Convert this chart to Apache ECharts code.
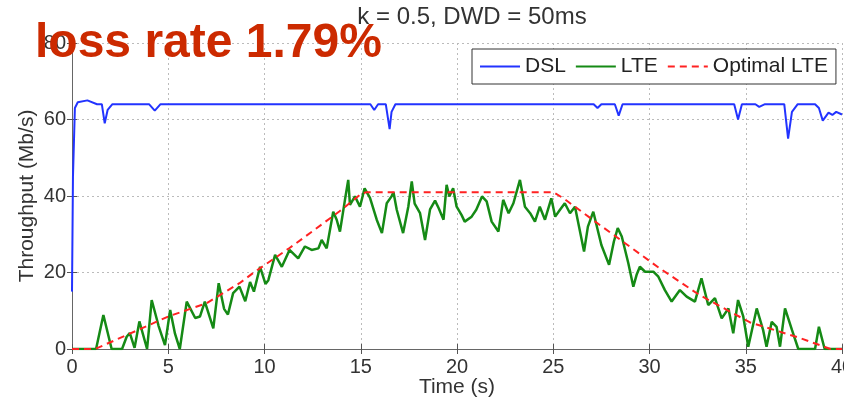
<!DOCTYPE html>
<html>
<head>
<meta charset="utf-8">
<script src="https://cdn.jsdelivr.net/npm/echarts@6/dist/echarts.min.js"></script>
<style>html,body{margin:0;padding:0;background:#fff}#c{width:844px;height:401px}</style>
</head>
<body>
<div id="c"></div>
<script>
const FONT = "'Liberation Sans', Arial, Helvetica, sans-serif";
const chartTitle = 'k = 0.5, DWD = 50ms';
const annotation = 'loss rate 1.79%';
const xName = 'Time (s)';
const yName = 'Throughput (Mb/s)';
const seriesNames = ['DSL', 'LTE', 'Optimal LTE'];

const dslT = [0, 0.05, 0.15, 0.3, 0.8, 1.3, 1.55, 1.7, 1.85, 2.1, 2.5, 4.0, 4.3, 4.6, 6, 10, 15.5, 15.7, 15.9, 16.3, 16.5, 16.6, 16.8, 20, 27.1, 27.3, 27.5, 28.2, 28.4, 28.6, 34.4, 34.6, 34.8, 35.5, 35.7, 36, 37.0, 37.2, 37.4, 37.7, 38.6, 38.8, 39.0, 39.3, 39.5, 39.7, 40];
const dslY = [15, 45, 63, 64.5, 65, 64, 64, 59, 62.5, 64, 64, 64, 62.3, 64, 64, 64, 64, 62.5, 64, 64, 57.5, 62, 64, 64, 64, 63, 64, 64, 61, 64, 64, 60, 64, 64, 63.3, 64, 64, 55, 62, 64, 64, 63, 59.7, 61.8, 61.2, 62, 61.3];

const lteT = [0, 1.25, 1.63, 2.06, 2.6, 2.84, 3.0, 3.25, 3.5, 3.9, 4.14, 4.5, 4.83, 5.1, 5.35, 5.6, 5.96, 6.4, 6.65, 6.9, 7.34, 7.62, 7.9, 8.1, 8.37, 8.7, 9.0, 9.25, 9.45, 9.77, 10.05, 10.2, 10.55, 10.9, 11.3, 11.75, 12.1, 12.45, 12.8, 12.97, 13.23, 13.57, 13.75, 13.92, 14.18, 14.35, 14.44, 14.7, 14.96, 15.2, 15.48, 15.83, 16.1, 16.35, 16.6, 16.7, 16.87, 17.2, 17.47, 17.65, 17.8, 18.08, 18.34, 18.6, 18.86, 19.05, 19.3, 19.46, 19.6, 19.8, 19.98, 20.24, 20.4, 20.76, 21.0, 21.3, 21.54, 21.8, 22.15, 22.4, 22.68, 22.93, 23.27, 23.53, 23.8, 24.05, 24.3, 24.57, 24.9, 25.1, 25.35, 25.6, 25.87, 26.13, 26.6, 26.8, 27.08, 27.5, 27.9, 28.15, 28.35, 28.56, 28.9, 29.16, 29.33, 29.5, 29.77, 30.2, 30.46, 30.8, 31.15, 31.58, 31.93, 32.36, 32.7, 33.05, 33.4, 33.75, 34.1, 34.35, 34.6, 34.87, 35.13, 35.57, 35.9, 36.08, 36.35, 36.6, 36.78, 37.04, 37.4, 37.73, 38.6, 38.8, 39.1, 40];
const lteY = [0, 0, 8.9, 0, 0, 3.2, 4.2, 0.3, 7.2, 0, 12.8, 6, 1, 10.2, 4, 0, 12.4, 8.1, 8.5, 12.4, 5.4, 17.2, 10.5, 9, 14.6, 16.3, 12.5, 17.5, 15, 21.5, 17, 18, 24.6, 21.5, 25.9, 23.7, 26.8, 25.9, 26.3, 28.5, 26.3, 35.9, 33.8, 30.7, 39, 44.2, 37.7, 39.9, 37.2, 42, 39.5, 33.8, 30.3, 38.1, 39.9, 41, 36.4, 30.3, 37.2, 43.8, 38, 35.5, 28.5, 36.5, 38.8, 36.8, 33.8, 42.9, 39.9, 42, 37.2, 35, 33.3, 34.6, 36.4, 39.9, 38.6, 33.3, 30.7, 39, 35.5, 38.1, 44.2, 37.2, 35.5, 33.3, 37.2, 33.8, 39.4, 34.6, 36.4, 38.1, 35.5, 37.2, 25.5, 32, 35.9, 27.2, 22, 28.1, 31.6, 29.4, 22.4, 16.3, 19.4, 21.5, 20.2, 20.2, 18.9, 15.4, 12.4, 15.4, 13.7, 12.4, 18.5, 11.5, 13.3, 8, 10.6, 4.1, 12.8, 8.5, 0.6, 10.6, 5, 0.6, 7.1, 5.8, 0.6, 10.6, 5, 0, 0, 5.8, 0, 0];

const optT = [0, 1.2, 3, 5, 7, 8.7, 9.5, 11.3, 12.5, 13.9, 15, 15.3, 25.0, 25.5, 27.4, 28.5, 30.5, 32.6, 35.2, 37.8, 39.4, 40];
const optY = [0, 0, 4, 8.5, 12, 17.2, 20.2, 26.4, 30.8, 36, 40.5, 41, 41, 39.5, 32.5, 28.5, 21.2, 14.1, 7, 2.9, 0, 0];

const zip = (a, b) => a.map((v, i) => [v, b[i]]);

const chart = echarts.init(document.getElementById('c'), null, {renderer: 'canvas'});
const axisCommon = {
  min: 0,
  axisLine: {show: true, lineStyle: {color: '#666', width: 1}},
  axisTick: {show: true, inside: true, length: 5, lineStyle: {color: '#555'}},
  splitLine: {show: false}
};
chart.setOption({
  animation: false,
  backgroundColor: '#fff',
  title: {
    text: chartTitle, left: 472, textAlign: 'center', top: 5, padding: 0,
    textStyle: {fontFamily: FONT, fontSize: 24, fontWeight: 'normal', color: '#333'}
  },
  legend: {
    data: seriesNames, left: 472, top: 49,
    padding: [7, 8, 7, 7], itemGap: 9, itemWidth: 40, itemHeight: 14,
    itemStyle: {opacity: 0},
    borderColor: '#333', borderWidth: 1, backgroundColor: '#fff',
    textStyle: {fontFamily: FONT, fontSize: 21, color: '#222'}
  },
  grid: {left: 72, right: 2, top: 43, bottom: 52, containLabel: false, outerBoundsMode: 'none'},
  xAxis: [
    Object.assign({}, axisCommon, {
      type: 'value', max: 40, interval: 5, position: 'bottom',
      name: xName, nameLocation: 'middle', nameGap: 28, nameMoveOverlap: false,
      nameTextStyle: {fontFamily: FONT, fontSize: 21, color: '#333'},
      axisLabel: {fontFamily: FONT, fontSize: 20, color: '#333', margin: 8},
      splitLine: {show: true, lineStyle: {color: '#bbb', type: [2, 3], width: 1}}
    }),
    Object.assign({}, axisCommon, {
      type: 'value', max: 40, interval: 5, position: 'top',
      axisLabel: {show: false}
    })
  ],
  yAxis: [
    Object.assign({}, axisCommon, {
      type: 'value', max: 80, interval: 20, position: 'left',
      name: yName, nameLocation: 'middle', nameGap: 34, nameMoveOverlap: false,
      nameTextStyle: {fontFamily: FONT, fontSize: 21, color: '#333'},
      axisLabel: {fontFamily: FONT, fontSize: 20, color: '#333', margin: 6},
      splitLine: {show: true, lineStyle: {color: '#bbb', type: [2, 3], width: 1}}
    }),
    Object.assign({}, axisCommon, {
      type: 'value', max: 80, interval: 20, position: 'right',
      axisLabel: {show: false}
    })
  ],
  series: [
    {name: seriesNames[0], type: 'line', data: zip(dslT, dslY), symbol: 'none', z: 3,
      lineStyle: {color: '#2233ff', width: 2}, itemStyle: {color: '#2233ff'}},
    {name: seriesNames[1], type: 'line', data: zip(lteT, lteY), symbol: 'none', z: 4,
      lineStyle: {color: '#158a15', width: 2.5}, itemStyle: {color: '#158a15'}},
    {name: seriesNames[2], type: 'line', data: zip(optT, optY), symbol: 'none', z: 5,
      lineStyle: {color: '#ff2222', width: 2, type: [7, 5]}, itemStyle: {color: '#ff2222'}}
  ],
  graphic: [{
    type: 'text', left: 35, top: 20, z: 100,
    style: {text: annotation, fill: '#cc2a00', font: 'bold 48px ' + FONT}
  }]
});
</script>
</body>
</html>
